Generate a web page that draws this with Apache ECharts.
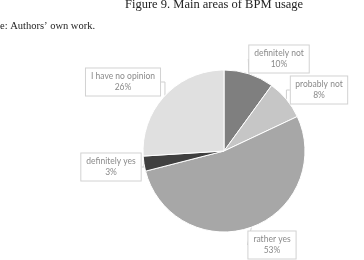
<!DOCTYPE html>
<html><head><meta charset="utf-8">
<script src="https://cdn.jsdelivr.net/npm/echarts@6/dist/echarts.min.js"></script>
<style>html,body{margin:0;padding:0;background:#fff}#c{width:364px;height:260px}</style>
</head><body><div id="c"></div>
<script>
const categories = ['definitely not', 'probably not', 'rather yes', 'definitely yes', 'I have no opinion'];
const values = [10, 8, 53, 3, 26];
const colors = ['#7f7f7f', '#c6c6c6', '#a7a7a7', '#404040', '#e0e0e0'];
const labelPos = [[279, 59], [319, 90], [272, 245], [111, 167], [123, 82]];

const chart = echarts.init(document.getElementById('c'), null, {renderer: 'canvas'});
chart.setOption({
  animation: false,
  graphic: [
    {type: 'text', left: 125, top: -2, style: {text: 'Figure 9. Main areas of BPM usage', font: '12.5px "Liberation Serif"', fill: '#222'}},
    {type: 'text', left: 0, top: 21, style: {text: 'e: Authors’ own work.', font: '10.5px "Liberation Serif"', fill: '#222'}}
  ],
  series: [{
    type: 'pie',
    center: [224, 151],
    radius: 81,
    startAngle: 90,
    clockwise: true,
    data: categories.map((n, i) => ({name: n, value: values[i], itemStyle: {color: colors[i]}})),
    itemStyle: {borderColor: '#fff', borderWidth: 1},
    label: {
      show: true,
      formatter: p => p.name + '\n' + p.value + '%',
      fontFamily: 'Lato',
      fontSize: 8.5,
      lineHeight: 11,
      color: '#8a8a8a',
      align: 'center',
      overflow: 'none',
      backgroundColor: '#fff',
      borderColor: '#d2d2d2',
      borderWidth: 1,
      padding: [3, 5, 2, 5]
    },
    labelLine: {show: true, length: 4, length2: 4, lineStyle: {color: '#cfcfcf', width: 1}},
    labelLayout: p => ({x: labelPos[p.dataIndex][0], y: labelPos[p.dataIndex][1], align: 'center', verticalAlign: 'middle'})
  }]
});
</script></body></html>
